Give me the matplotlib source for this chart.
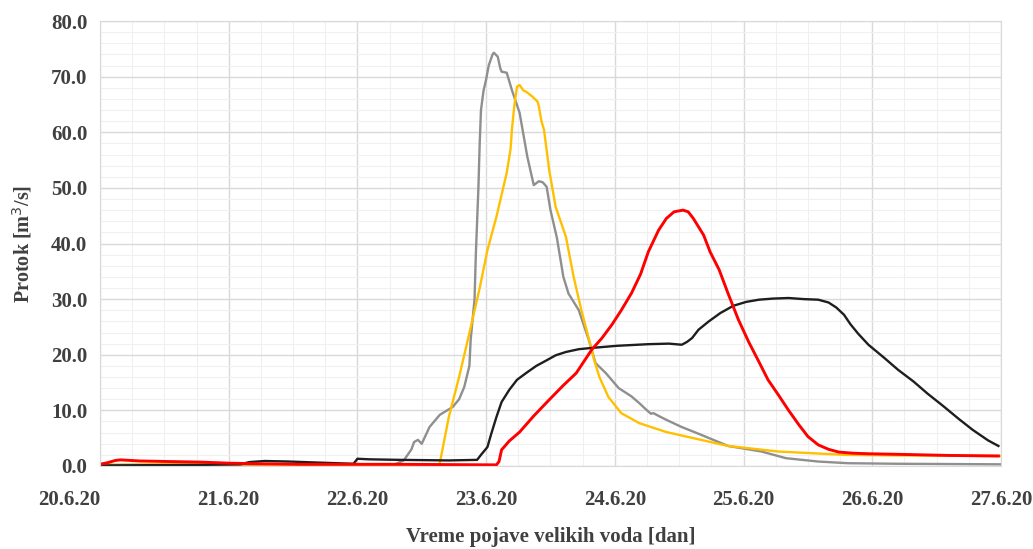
import numpy as np
import matplotlib.pyplot as plt
from matplotlib.ticker import MultipleLocator

# time in days from 20.6.20 00:00, flow in m3/s
gray_t = [0.00, 1.55, 2.29, 2.36, 2.42, 2.44, 2.47, 2.50, 2.53, 2.56, 2.64, 2.74, 2.79, 2.83,
          2.87, 2.88, 2.91, 2.92, 2.94, 2.95, 2.96, 2.98, 3.00, 3.02, 3.05, 3.06, 3.09, 3.11,
          3.12, 3.16, 3.20, 3.26, 3.32, 3.37, 3.41, 3.44, 3.47, 3.50, 3.55, 3.60, 3.64, 3.72,
          3.80, 3.85, 3.93, 4.03, 4.09, 4.13, 4.19, 4.25, 4.28, 4.30, 4.34, 4.40, 4.52, 4.65,
          4.88, 5.14, 5.33, 5.58, 5.81, 6.20, 7.00]
gray_q = [0.2, 0.2, 0.3, 1.0, 3.0, 4.3, 4.7, 4.0, 5.5, 7.0, 9.2, 10.6, 12.0, 14.2,
          18.0, 22.7, 30.0, 38.0, 50.0, 58.0, 64.0, 67.5, 69.5, 72.0, 74.0, 74.3, 73.6, 71.5,
          70.9, 70.7, 67.6, 63.5, 55.6, 50.5, 51.2, 51.0, 50.2, 46.0, 41.0, 34.0, 31.0, 28.0,
          22.5, 18.5, 16.7, 14.0, 13.1, 12.5, 11.3, 10.0, 9.4, 9.5, 9.0, 8.3, 7.0, 5.8,
          3.6, 2.6, 1.4, 0.8, 0.5, 0.4, 0.3]

yellow_t = [0.00, 0.12, 0.39, 1.16, 1.55, 2.61, 2.64, 2.71, 2.79, 2.87, 2.95, 3.01, 3.08,
            3.16, 3.19, 3.20, 3.22, 3.24, 3.26, 3.29, 3.31, 3.36, 3.40, 3.41, 3.43, 3.45,
            3.49, 3.54, 3.62, 3.68, 3.74, 3.80, 3.84, 3.88, 3.95, 4.05, 4.19, 4.40, 4.65,
            4.88, 5.27, 5.79, 6.20, 7.00]
yellow_q = [0.4, 0.2, 0.3, 0.3, 0.1, 0.0, 0.5, 8.8, 16.0, 23.9, 32.0, 38.8, 44.8,
            52.7, 57.0, 60.4, 65.0, 68.2, 68.5, 67.5, 67.3, 66.4, 65.5, 64.6, 62.0, 60.4,
            53.2, 46.6, 41.2, 34.0, 28.0, 22.7, 19.0, 16.0, 12.4, 9.5, 7.7, 6.1, 4.8,
            3.6, 2.6, 2.0, 1.9, 1.8]

black_t = [0.00, 0.78, 1.09, 1.16, 1.28, 1.47, 1.71, 1.97, 2.00, 2.09, 2.33, 2.71, 2.93,
           2.96, 3.01, 3.04, 3.08, 3.12, 3.18, 3.24, 3.31, 3.39, 3.47, 3.54, 3.62, 3.72,
           3.81, 4.01, 4.26, 4.42, 4.52, 4.56, 4.60, 4.65, 4.73, 4.82, 4.92, 5.02, 5.12,
           5.23, 5.35, 5.47, 5.58, 5.66, 5.72, 5.78, 5.83, 5.89, 5.97, 6.09, 6.20, 6.32,
           6.43, 6.55, 6.67, 6.78, 6.90, 6.98]
black_q = [0.1, 0.2, 0.3, 0.7, 0.9, 0.8, 0.6, 0.4, 1.3, 1.2, 1.1, 1.0, 1.1,
           2.0, 3.4, 5.8, 8.8, 11.5, 13.7, 15.5, 16.7, 18.0, 19.0, 19.9, 20.5, 21.0,
           21.2, 21.6, 21.9, 22.0, 21.8, 22.3, 23.0, 24.5, 26.0, 27.5, 28.8, 29.5, 29.9,
           30.1, 30.2, 30.0, 29.9, 29.4, 28.5, 27.2, 25.5, 23.8, 21.8, 19.5, 17.3, 15.2,
           13.0, 10.8, 8.5, 6.5, 4.6, 3.6]

red_t = [0.00, 0.06, 0.12, 0.16, 0.31, 0.54, 0.78, 1.01, 1.24, 1.55, 2.33, 3.08, 3.10,
         3.12, 3.18, 3.26, 3.37, 3.49, 3.60, 3.70, 3.82, 3.90, 3.98, 4.05, 4.13, 4.20,
         4.26, 4.34, 4.40, 4.46, 4.53, 4.57, 4.61, 4.65, 4.69, 4.74, 4.81, 4.88, 4.96,
         5.04, 5.12, 5.19, 5.27, 5.35, 5.43, 5.50, 5.58, 5.66, 5.74, 5.85, 5.97, 6.20,
         6.59, 6.98]
red_q = [0.3, 0.6, 1.0, 1.1, 0.9, 0.8, 0.7, 0.5, 0.4, 0.3, 0.3, 0.2, 0.8,
         2.9, 4.5, 6.1, 9.0, 11.9, 14.5, 16.7, 20.9, 23.0, 25.5, 28.0, 31.1, 34.5,
         38.5, 42.4, 44.5, 45.7, 46.0, 45.7, 44.5, 43.0, 41.5, 38.5, 35.3, 31.0, 26.3,
         22.3, 18.7, 15.5, 12.8, 10.0, 7.4, 5.3, 3.8, 3.0, 2.5, 2.3, 2.2, 2.1,
         1.9, 1.8]

day_labels = ['20.6.20', '21.6.20', '22.6.20', '23.6.20', '24.6.20', '25.6.20', '26.6.20', '27.6.20']

plt.rcParams['font.family'] = ['Liberation Serif', 'DejaVu Serif']

fig = plt.figure(figsize=(10.33, 5.49), dpi=100)
ax = fig.add_axes([0.0968, 0.1512, 0.8722, 0.8105])

ax.plot(gray_t, gray_q, color='#8f8f8f', lw=1.7)
ax.plot(yellow_t, yellow_q, color='#ffc000', lw=1.7)
ax.plot(black_t, black_q, color='#1e1e1e', lw=1.7)
ax.plot(red_t, red_q, color='#ff0000', lw=2.1)

ax.set_xlim(0, 7)
ax.set_ylim(0, 80)
ax.set_xticks(np.arange(len(day_labels)))
ax.set_xticklabels(day_labels)
ax.xaxis.set_minor_locator(MultipleLocator(0.25))
ax.yaxis.set_major_locator(MultipleLocator(10))
ax.yaxis.set_minor_locator(MultipleLocator(2))
ax.set_yticklabels([f'{v:.1f}' for v in ax.get_yticks()])

ax.grid(which='major', color='#d9d9d9', lw=1.0)
ax.grid(which='minor', color='#f0f0f0', lw=0.8)
ax.set_axisbelow(True)
ax.tick_params(which='both', length=0)
ax.tick_params(axis='x', pad=17, labelsize=15, labelcolor='#404040')
ax.tick_params(axis='y', pad=9, labelsize=15, labelcolor='#404040')
for lbl in ax.get_xticklabels() + ax.get_yticklabels():
    lbl.set_fontweight('bold')
ax.get_xticklabels()[0].set_horizontalalignment('right')
ax.get_xticklabels()[0].set_x(0.02)
for s in ax.spines.values():
    s.set_color('#d9d9d9')

ax.set_xlabel('Vreme pojave velikih voda [dan]', fontsize=15, fontweight='bold',
              color='#404040', labelpad=12.5)
ax.set_ylabel('Protok [m$^3$/s]', fontsize=14.5, fontweight='bold', color='#404040', labelpad=12)

fig.savefig('out.png', dpi=100)
